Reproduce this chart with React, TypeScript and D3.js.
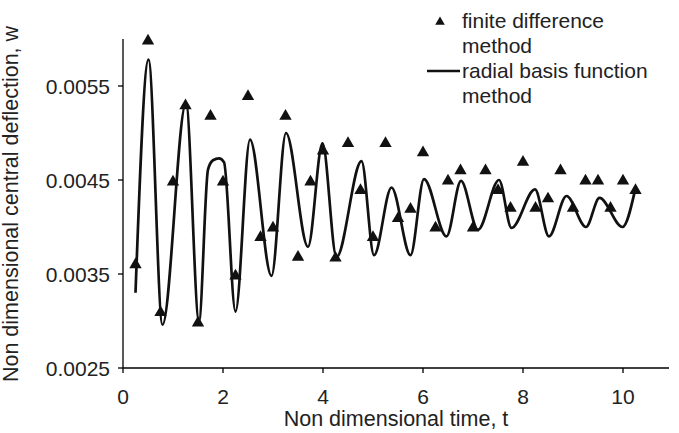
import React from 'react';
import * as d3 from 'd3';

const xTicks = [0, 2, 4, 6, 8, 10];
const yTicks = [0.0025, 0.0035, 0.0045, 0.0055];
const yTickLabels = ['0.0025', '0.0035', '0.0045', '0.0055'];

// finite difference method (triangles)
const fdTime = [
  0.25, 0.5, 0.75, 1.0, 1.25, 1.5, 1.75, 2.0, 2.25, 2.5, 2.75, 3.0, 3.25, 3.5,
  3.75, 4.0, 4.25, 4.5, 4.75, 5.0, 5.25, 5.5, 5.75, 6.0, 6.25, 6.5, 6.75, 7.0,
  7.25, 7.5, 7.75, 8.0, 8.25, 8.5, 8.75, 9.0, 9.25, 9.5, 9.75, 10.0, 10.25,
];
const fdValue = [
  0.0036, 0.00598, 0.00309, 0.00448, 0.00529, 0.00298, 0.00518, 0.00448,
  0.00348, 0.00539, 0.00389, 0.00399, 0.00518, 0.00368, 0.00448, 0.00481,
  0.00367, 0.00489, 0.00439, 0.00389, 0.00489, 0.00409, 0.00419, 0.00479,
  0.00399, 0.00449, 0.0046, 0.00399, 0.0046, 0.00439, 0.0042, 0.00469,
  0.0042, 0.0043, 0.0046, 0.0042, 0.00449, 0.00449, 0.0042, 0.00449, 0.00439,
];

// radial basis function method (line)
const rbfTime = [
  0.25, 0.51, 0.79, 1.26, 1.52, 1.7, 1.8, 1.92, 2.02, 2.25, 2.54, 2.97, 3.26,
  3.7, 3.99, 4.27, 4.77, 5.02, 5.37, 5.75, 6.02, 6.47, 6.76, 7.1, 7.52, 7.77,
  8.24, 8.52, 8.87, 9.26, 9.53, 9.99, 10.24,
];
const rbfValue = [
  0.0033, 0.00578, 0.00296, 0.00532, 0.003, 0.00461, 0.00471, 0.00473,
  0.00469, 0.0031, 0.00493, 0.00348, 0.005, 0.00379, 0.00489, 0.00368,
  0.0047, 0.0037, 0.00442, 0.0037, 0.00451, 0.0039, 0.00449, 0.00397,
  0.0045, 0.00399, 0.0044, 0.0039, 0.00433, 0.004, 0.00431, 0.004, 0.00439,
];

const FONT = '"Liberation Sans", Arial, Helvetica, sans-serif';

export default function App() {
  const x = d3.scaleLinear().domain([0, 10.92]).range([123, 669]);
  const y = d3.scaleLinear().domain([0.0025, 0.006]).range([368, 39]);

  const line = d3
    .line<number>()
    .x((_, i) => x(rbfTime[i]))
    .y((d) => y(d))
    .curve(d3.curveMonotoneX);

  const tri = d3.symbol().type(d3.symbolTriangle).size(66)() as string;
  const triSmall = d3.symbol().type(d3.symbolTriangle).size(40)() as string;

  const [x0, x1] = x.range();
  const [y0, y1] = y.range();

  return (
    <svg
      width={679}
      height={433}
      style={{ position: 'absolute', left: 0, top: 0, background: '#fff' }}
      fontFamily={FONT}
    >
      <rect x={0} y={0} width={679} height={433} fill="#fff" />
      {/* axes */}
      <line x1={x0} x2={x0} y1={y1} y2={y0} stroke="#000" strokeWidth={1.3} />
      <line x1={x0} x2={x1} y1={y0} y2={y0} stroke="#000" strokeWidth={1.3} />
      {yTicks.map((t, i) => (
        <g key={'y' + i}>
          <line x1={x0 - 5} x2={x0} y1={y(t)} y2={y(t)} stroke="#000" strokeWidth={1.3} />
          <text
            x={110}
            y={y(t)}
            dy="0.36em"
            textAnchor="end"
            fontSize={21}
            fill="#222"
          >
            {yTickLabels[i]}
          </text>
        </g>
      ))}
      {xTicks.map((t, i) => (
        <g key={'x' + i}>
          <line x1={x(t)} x2={x(t)} y1={y0} y2={y0 + 5} stroke="#000" strokeWidth={1.3} />
          <text x={x(t)} y={404} textAnchor="middle" fontSize={21} fill="#222">
            {String(t)}
          </text>
        </g>
      ))}
      <text x={396} y={426} textAnchor="middle" fontSize={21.5} fill="#222">
        Non dimensional time, t
      </text>
      <text
        transform={`translate(18, 204) rotate(-90)`}
        textAnchor="middle"
        fontSize={21.5}
        fill="#222"
      >
        Non dimensional central deflection, w
      </text>

      {/* RBF line */}
      <path d={line(rbfValue) || ''} fill="none" stroke="#111" strokeWidth={2.7} strokeLinejoin="round" />

      {/* FD markers */}
      {fdValue.map((v, i) => (
        <path key={'m' + i} d={tri} transform={`translate(${x(fdTime[i])},${y(v)})`} fill="#111" />
      ))}

      {/* legend */}
      <path d={triSmall} transform="translate(440,22)" fill="#111" />
      <text x={462} y={28} fontSize={21} fill="#222">finite difference</text>
      <text x={462} y={53} fontSize={21} fill="#222">method</text>
      <line x1={427} x2={460} y1={71} y2={71} stroke="#111" strokeWidth={2.5} />
      <text x={462} y={78} fontSize={21} fill="#222">radial basis function</text>
      <text x={462} y={103} fontSize={21} fill="#222">method</text>
    </svg>
  );
}
